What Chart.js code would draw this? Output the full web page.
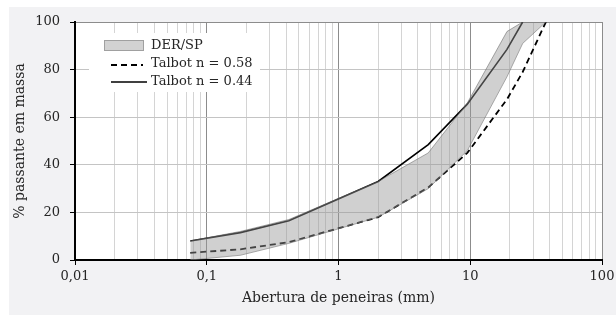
<!DOCTYPE html>
<html>
<head>
<meta charset="utf-8">
<script src="https://cdn.jsdelivr.net/npm/chart.js@4.4.0/dist/chart.umd.min.js"></script>
<style>
  html, body { margin: 0; padding: 0; background: #fff; }
  #wrap { width: 616px; height: 315px; }
</style>
</head>
<body>
<div id="wrap"><canvas id="gradChart" width="616" height="315"></canvas></div>
<script>
// Sieve openings (mm) and % passing
const sieves = [0.075, 0.18, 0.42, 2.0, 4.8, 9.5, 19, 25, 37.5];
const derUpper = [8, 12, 17, 33, 45, 66, 96, 100, 100];
const derLower = [0, 2, 7, 18, 30, 46, 77, 91, 100];
const talbot058 = [3, 4.5, 7.5, 18, 30.5, 45, 67.5, 79, 100];
const talbot044 = [8, 11.5, 16.5, 33, 48.5, 65.5, 88.5, 100, null];

// Axis ticks
const xDecades = [0.01, 0.1, 1, 10, 100];
const xTickLabels = ['0,01', '0,1', '1', '10', '100'];
const yTicks = [0, 20, 40, 60, 80, 100];

const legendLabels = ['DER/SP', 'Talbot n = 0.58', 'Talbot n = 0.44'];

const FONT = 'DejaVu Serif';
const TEXT = '#262626';

const pts = (ys) => sieves.map((x, i) => ({ x: x, y: ys[i] }));

// light grey page frame + white plot area
const framePlugin = {
    id: 'frame',
    beforeDraw(chart) {
        const { ctx, chartArea: a } = chart;
        ctx.save();
        ctx.fillStyle = '#fff';
        ctx.fillRect(0, 0, chart.width, chart.height);
        ctx.fillStyle = '#f2f2f4';
        ctx.fillRect(9, 7, chart.width - 9, chart.height - 7);
        ctx.fillStyle = '#fff';
        ctx.fillRect(a.left, a.top, a.right - a.left, a.bottom - a.top);
        ctx.restore();
    }
};

// legend box drawn inside the plot, like the original
const boxLegend = {
    id: 'boxLegend',
    afterDatasetsDraw(chart) {
        const ctx = chart.ctx;
        const ds = chart.data.datasets;
        ctx.save();
        ctx.fillStyle = '#fff';
        ctx.fillRect(89, 33, 171, 59);

        ctx.fillStyle = '#d2d2d2';
        ctx.fillRect(104.5, 40.5, 39, 10);
        ctx.strokeStyle = '#a0a0a0';
        ctx.lineWidth = 1;
        ctx.strokeRect(104.5, 40.5, 39, 10);

        ctx.strokeStyle = '#000';
        ctx.lineWidth = ds[2].borderWidth;
        ctx.setLineDash(ds[2].borderDash);
        ctx.beginPath();
        ctx.moveTo(111, 65);
        ctx.lineTo(143, 65);
        ctx.stroke();

        ctx.setLineDash([]);
        ctx.lineWidth = ds[3].borderWidth;
        ctx.beginPath();
        ctx.moveTo(111, 82);
        ctx.lineTo(147, 82);
        ctx.stroke();

        ctx.fillStyle = TEXT;
        ctx.font = '13px "' + FONT + '"';
        ctx.textBaseline = 'middle';
        ctx.textAlign = 'left';
        ctx.fillText(legendLabels[0], 151, 45.5);
        ctx.fillText(legendLabels[1], 151, 64);
        ctx.fillText(legendLabels[2], 151, 82);
        ctx.restore();
    }
};

const ctx = document.getElementById('gradChart').getContext('2d');

const gradChart = new Chart(ctx, {
    type: 'line',
    data: {
        datasets: [
            {
                label: legendLabels[0],
                data: pts(derUpper),
                fill: '+1',
                backgroundColor: 'rgba(150,150,150,0.45)',
                borderColor: 'rgba(100,100,100,0.55)',
                borderWidth: 1,
                pointRadius: 0
            },
            {
                label: legendLabels[0] + ' (inf.)',
                data: pts(derLower),
                fill: false,
                borderColor: 'rgba(100,100,100,0.55)',
                borderWidth: 1,
                pointRadius: 0
            },
            {
                label: legendLabels[1],
                data: pts(talbot058),
                fill: false,
                borderColor: '#000',
                borderWidth: 1.8,
                borderDash: [6, 4],
                pointRadius: 0
            },
            {
                label: legendLabels[2],
                data: pts(talbot044),
                fill: false,
                borderColor: '#000',
                borderWidth: 1.6,
                pointRadius: 0
            }
        ]
    },
    options: {
        responsive: false,
        animation: false,
        devicePixelRatio: 1,
        layout: { padding: { top: 22, right: 14, left: 0, bottom: 0 } },
        scales: {
            x: {
                type: 'logarithmic',
                min: 0.01,
                max: 100,
                afterBuildTicks: (scale) => {
                    const ticks = [];
                    xDecades.forEach((d, i) => {
                        ticks.push({ value: d, major: true, label: xTickLabels[i] });
                        if (i < xDecades.length - 1) {
                            for (let m = 2; m <= 9; m++) ticks.push({ value: m * d, major: false });
                        }
                    });
                    scale.ticks = ticks;
                },
                afterFit: (scale) => {
                    scale.height = 55;
                    scale.paddingLeft = 0;
                    scale.paddingRight = 0;
                },
                ticks: {
                    autoSkip: false,
                    maxRotation: 0,
                    padding: 4,
                    color: TEXT,
                    font: { family: FONT, size: 13 },
                    callback: function(value, index, ticks) {
                        return ticks[index].major ? ticks[index].label : '';
                    }
                },
                grid: {
                    color: (c) => (c.tick && c.tick.major) ? '#8c8c8c' : '#d4d4d4',
                    tickColor: (c) => (c.tick && c.tick.major) ? '#000' : 'rgba(0,0,0,0)',
                    tickLength: 5,
                    lineWidth: 1
                },
                border: { color: '#000', width: 2 },
                title: {
                    display: true,
                    text: 'Abertura de peneiras (mm)',
                    color: TEXT,
                    font: { family: FONT, size: 14 },
                    padding: { top: 0, bottom: 8 }
                }
            },
            y: {
                min: 0,
                max: 100,
                afterBuildTicks: (scale) => {
                    scale.ticks = yTicks.map(v => ({ value: v }));
                },
                afterFit: (scale) => {
                    scale.width = 75;
                    scale.paddingTop = 0;
                    scale.paddingBottom = 0;
                },
                ticks: {
                    padding: 10,
                    color: TEXT,
                    font: { family: FONT, size: 13 }
                },
                grid: {
                    color: (c) => (c.tick && c.tick.value === 100) ? '#8c8c8c' : '#c4c4c4',
                    tickColor: '#000',
                    tickLength: 5
                },
                border: { color: '#000', width: 2 },
                title: {
                    display: true,
                    text: '% passante em massa',
                    color: TEXT,
                    font: { family: FONT, size: 14 },
                    padding: { top: 12, bottom: 0 }
                }
            }
        },
        plugins: {
            legend: { display: false },
            tooltip: { enabled: false }
        }
    },
    plugins: [framePlugin, boxLegend]
});
</script>
</body>
</html>
